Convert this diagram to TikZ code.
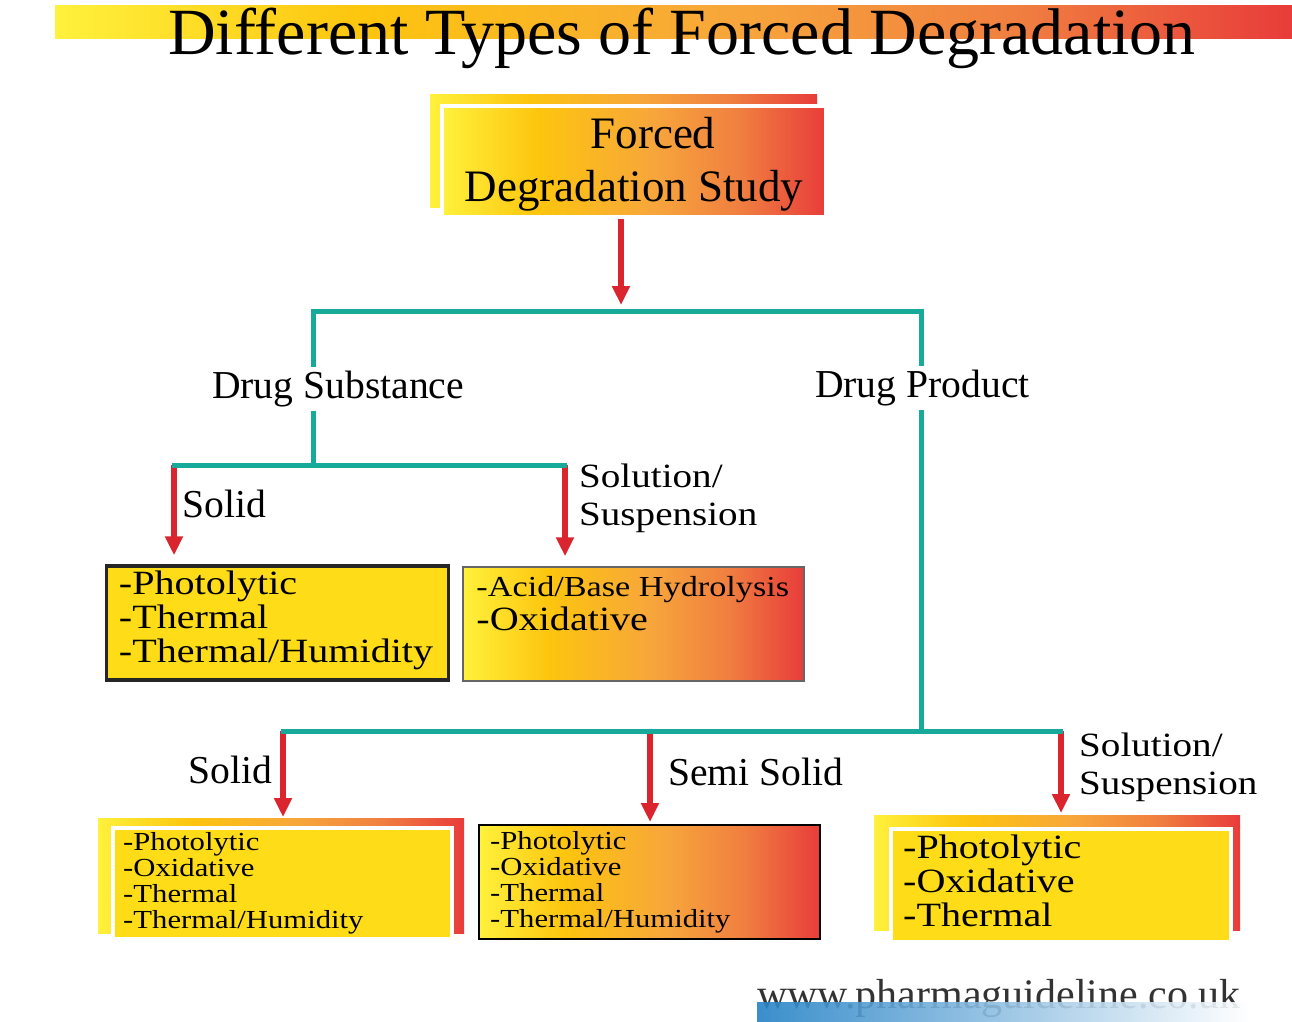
\documentclass[tikz,border=0pt]{standalone}
\usepackage{fontspec}
\setmainfont{Liberation Serif}
\newfontfamily\boxfont[FakeStretch=1.18]{Liberation Serif}
\newfontfamily\splitfont[FakeStretch=1.15]{Liberation Serif}
\usepackage{xcolor}
\usetikzlibrary{arrows.meta, positioning, calc}
\definecolor{gyellow}{HTML}{FFF13C}
\definecolor{ggold}{HTML}{FDC50E}
\definecolor{gorange}{HTML}{F7A63B}
\definecolor{gdeep}{HTML}{F07E40}
\definecolor{gred}{HTML}{E83C3A}
\definecolor{boxyellow}{HTML}{FEDC17}
\definecolor{lineteal}{HTML}{17A99A}
\definecolor{arrowred}{HTML}{DA242E}
\definecolor{footblue}{HTML}{2582C6}
\definecolor{footgrey}{HTML}{333333}
% la parte visibile della sfumatura va da 25bp a 75bp
\pgfdeclarehorizontalshading{forcedgrad}{100bp}{color(0bp)=(gyellow); color(25bp)=(gyellow); color(37.5bp)=(ggold); color(52.5bp)=(gorange); color(64bp)=(gdeep); color(75bp)=(gred); color(100bp)=(gred)}
\tikzset{
  >={Triangle[length=19pt,width=17pt]},  % punta delle frecce rosse
  % Riquadri
  grad box/.style={shade,shading=forcedgrad,inner sep=0pt},
  front grad/.style={grad box,draw=white,line width=4pt},
  front yellow/.style={fill=boxyellow,draw=white,line width=4pt,inner sep=0pt},
  solid box/.style={fill=boxyellow,draw=black!85,line width=3.5pt,inner sep=0pt},
  sol box/.style={grad box,draw=black!60,line width=1.5pt},
  semi box/.style={grad box,draw=black,line width=2pt},
  % Connessioni
  teal line/.style={line width=5pt,draw=lineteal},
  red arrow/.style={->,line width=6pt,draw=arrowred},
  % Testi
  title text/.style={font=\fontsize{66}{66}\selectfont,inner sep=0pt,anchor=base},
  study text/.style={font=\fontsize{45}{53}\selectfont,align=center,inner sep=0pt},
  branch text/.style={font=\fontsize{39.6}{40}\selectfont,inner sep=0pt,anchor=base west},
  split text/.style={font=\splitfont\fontsize{34}{38}\selectfont,align=left,inner sep=0pt,anchor=north west},
  big list/.style={font=\boxfont\fontsize{34}{34}\selectfont,align=left,inner sep=0pt},
  small list/.style={font=\boxfont\fontsize{26}{26}\selectfont,align=left,inner sep=0pt},
  foot text/.style={font=\fontsize{42}{42}\selectfont,text=footgrey,inner sep=0pt,anchor=base west}
}
\begin{document}
\begin{tikzpicture}[x=1pt,y=-1pt]
  \useasboundingbox (0,0) rectangle (1292,1021);

  % titolo
  \path[grad box] (55,5) rectangle (1292,38);
  \node[title text] (title) at (682,54) {Different Types of Forced Degradation};

  % Forced Degradation Study
  \path[grad box] (430,94) rectangle (817,207);
  \node[front grad,minimum width=384pt,minimum height=111pt] (study) at (634,161.5) {};
  \node[study text,below=13pt of study.north] (studyTxt) {\hspace*{38pt}Forced\\Degradation Study};

  % punti di diramazione
  \coordinate (split) at (621,311);
  \coordinate (dsTop) at (313,311);
  \coordinate (dpTop) at (921,311);
  \coordinate (dsSplit) at (313,465);
  \coordinate (dsLeft) at (172,465);
  \coordinate (dsRight) at (567,465);
  \coordinate (dpSplit) at (921,731);
  \coordinate (dpLeft) at (281,731);
  \coordinate (dpRight) at (1063,731);
  \coordinate (dsA) at (174,465);
  \coordinate (dsB) at (565,465);
  \coordinate (dpA) at (283,731);
  \coordinate (dpB) at (650,731);
  \coordinate (dpC) at (1061,731);

  % Drug Substance
  \node[solid box,minimum width=342pt,minimum height=114pt] (dsSolid) at (277.5,623) {};
  \node[sol box,minimum width=341pt,minimum height=114pt] (dsSol) at (633.5,624) {};
  \node[big list,below right=6pt and 14pt of dsSolid.north west] (dsSolidTxt)
    {-Photolytic\\-Thermal\\-Thermal/Humidity};
  \node[big list,below right=10pt and 14pt of dsSol.north west] (dsSolTxt)
    {{\fontsize{29}{34}\selectfont -Acid/Base Hydrolysis}\\-Oxidative};

  % Drug Product
  \path[grad box] (98,818) rectangle (464,933);
  \node[front yellow,minimum width=339pt,minimum height=111pt] (dpSolid) at (282.5,883.5) {};
  \node[semi box,minimum width=341pt,minimum height=114pt] (dpSemi) at (649.5,882) {};
  \path[grad box] (874,815) rectangle (1240,930);
  \node[front yellow,minimum width=340pt,minimum height=113pt] (dpSol) at (1061,885.5) {};
  \node[small list,below right=6pt and 12pt of dpSolid.north west] (dpSolidTxt)
    {-Photolytic\\-Oxidative\\-Thermal\\-Thermal/Humidity};
  \node[small list,below right=7pt and 12pt of dpSemi.north west] (dpSemiTxt)
    {-Photolytic\\-Oxidative\\-Thermal\\-Thermal/Humidity};
  \node[big list,below right=8pt and 14pt of dpSol.north west] (dpSolTxt)
    {-Photolytic\\-Oxidative\\-Thermal};

  % frecce
  \draw[red arrow,shorten >=6pt] (study.south -| split) -- (split);
  \foreach \from/\to/\gap in {dsA/dsSolid/9pt, dsB/dsSol/10pt, dpA/dpSolid/9pt, dpB/dpSemi/2pt, dpC/dpSol/14pt}
    \draw[red arrow,shorten >=\gap] (\from) -- (\from |- \to.north);

  % linee
  \draw[teal line] (dsSplit) -- (dsTop) -- (dpTop) -- (dpSplit);
  \draw[teal line] (dsLeft) -- (dsRight);
  \draw[teal line] (dpLeft) -- (dpRight);

  % etichette
  \node[branch text,fill=white,inner ysep=4pt] (dsLbl) at (212,398) {Drug Substance};
  \node[branch text,fill=white,inner ysep=4pt] (dpLbl) at (815,397) {Drug Product};
  \node[branch text] (dsSolidLbl) at (182,517) {Solid};
  \node[split text] (dsSolLbl) at (579,464) {Solution/\\Suspension};
  \node[branch text] (dpSolidLbl) at (188,783) {Solid};
  \node[branch text] (dpSemiLbl) at (668,785) {Semi Solid};
  \node[split text] (dpSolLbl) at (1079,733) {Solution/\\Suspension};

  % sito
  \node[foot text] (site) at (757,1008) {www.pharmaguideline.co.uk};
  \path[left color=footblue,right color=white,fill opacity=0.9] (757,1002) rectangle (1250,1021);
\end{tikzpicture}
\end{document}
